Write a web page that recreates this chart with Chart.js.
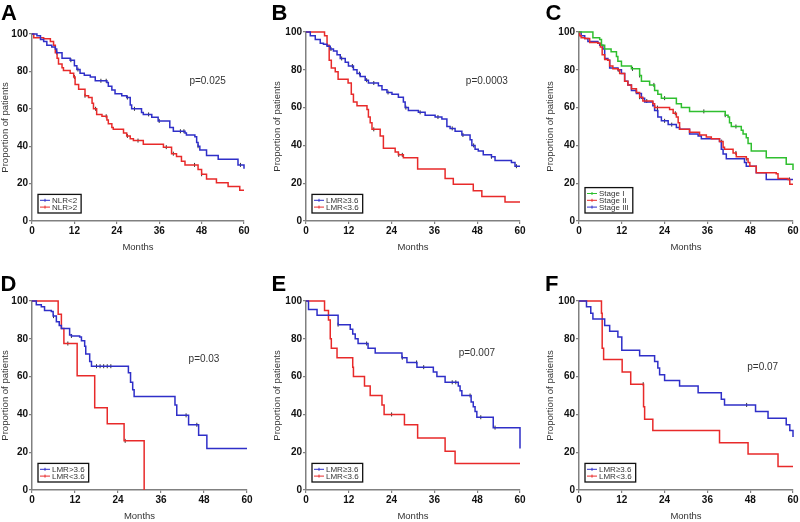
<!DOCTYPE html>
<html>
<head>
<meta charset="utf-8">
<script src="https://cdn.jsdelivr.net/npm/chart.js@4.4.0/dist/chart.umd.min.js"></script>
<style>
  body { margin: 0; background: #fff; }
  #fig { position: relative; width: 800px; height: 522px; overflow: hidden; }
  .panel { position: absolute; }
  .letter { position: absolute; font: bold 22px "Liberation Sans", Arial, sans-serif; line-height: 1; color: #000; }
</style>
</head>
<body>
<div id="fig"></div>
<script>
// tick labels
const monthTicks = [0, 12, 24, 36, 48, 60];
const propTicks = [0, 20, 40, 60, 80, 100];

// A: NLR
const aBlueT = [0, 1.4, 2.4, 3.3, 4.2, 5.6, 6.6, 7.0, 8.5, 10.8, 12.0, 12.7, 13.6, 14.8, 16.5, 17.9, 21.2, 21.6, 22.6, 23.5, 25.4, 26.8, 27.8, 28.2, 31.0, 31.5, 33.9, 35.7, 39.0, 40.0, 43.3, 43.7, 46.1, 46.6, 47.0, 47.5, 49.4, 52.7, 58.3, 60];
const aBlueS = [100, 99, 97, 96, 94, 93, 92, 90, 87, 86, 83, 81, 79, 78, 77, 75, 74, 72, 70, 68, 67, 66, 62, 60, 58, 57, 55.5, 53.5, 50, 48, 47, 46, 45, 42, 40, 38, 35, 33, 30, 28];
const aBlueC = [11, 13, 19.5, 21, 27, 29, 33, 36, 42, 43, 47, 59];
const aRedT = [0, 0.5, 3.3, 5.2, 6.1, 6.6, 7.1, 7.5, 8.5, 8.9, 10.8, 11.8, 12.2, 13.2, 15.0, 16.0, 17.0, 17.4, 18.3, 19.8, 21.2, 21.6, 22.6, 23.0, 25.9, 26.8, 27.8, 28.7, 31.5, 37.2, 39.5, 40.9, 42.3, 43.3, 47.0, 48.0, 49.4, 52.2, 55.5, 58.8, 60];
const aRedS = [100, 98, 97.5, 96, 94, 90, 87, 84, 82, 80.5, 79, 77, 73, 70.5, 67, 66, 63, 60, 57, 56, 54, 52, 50, 49, 47, 45.5, 44, 43, 41, 39.5, 36, 34.5, 32, 30, 27.5, 25, 22.5, 20.5, 18.5, 16.5, 16.5];
const aRedC = [7, 12, 15, 18, 21, 27, 30, 38, 40, 46, 48];

// B: LMR
const bBlueT = [0, 1.2, 2.6, 4.0, 4.9, 5.9, 6.8, 7.7, 8.7, 9.6, 11.0, 11.9, 13.3, 14.3, 15.2, 16.6, 17.5, 20.3, 21.3, 22.7, 24.1, 25.9, 27.3, 27.8, 28.7, 31.5, 33.4, 36.2, 38.1, 39.5, 40.4, 41.8, 43.7, 46.0, 46.5, 47.4, 48.3, 49.7, 52.0, 53.0, 57.6, 58.6, 60];
const bBlueS = [100, 98, 96, 94, 93.5, 92.5, 91, 90, 88, 86, 84, 82, 80, 78, 76.5, 74.5, 73, 71.5, 69.5, 68, 67, 65.5, 63, 60, 58.5, 57.5, 56, 55, 54, 50, 49, 47.5, 45.5, 43, 40, 38, 37, 35, 34, 32, 31, 29, 29];
const bBlueC = [7, 10, 13, 15, 17, 19, 23, 28, 32, 37, 41, 44, 47, 52, 59];
const bRedT = [0, 5.2, 5.9, 6.5, 7.1, 8.2, 9.0, 11.8, 12.7, 13.3, 14.3, 17.1, 17.5, 18.0, 18.5, 20.8, 21.7, 25.0, 25.9, 27.3, 31.3, 39.0, 41.3, 46.9, 49.3, 55.8, 60];
const bRedS = [100, 98, 93, 85, 81, 79, 75, 73, 67, 63, 61, 59, 55, 52, 48.5, 45, 38.5, 36.5, 35, 33.5, 27.5, 22.5, 19.5, 16, 13, 10, 10];
const bRedC = [19, 26, 27];

// C: stage
const cGreenT = [0, 3.9, 5.8, 6.3, 7.2, 9.0, 10.5, 10.9, 11.9, 14.7, 17.0, 17.5, 19.8, 21.2, 22.1, 23.1, 27.3, 28.7, 31.0, 41.0, 41.8, 42.2, 42.7, 45.5, 46.0, 46.9, 47.4, 48.3, 52.5, 58.1, 60];
const cGreenS = [100, 97, 96, 93, 91, 89.5, 87, 84.5, 82, 80.5, 77, 74, 72, 69, 67, 65, 62, 60, 58, 56, 55, 52, 50, 48, 46, 44, 41, 37, 33.5, 30, 27];
const cGreenC = [15, 17, 21, 24, 35, 41, 44];
const cRedT = [0, 0.2, 0.6, 1.6, 3.0, 5.3, 6.0, 6.5, 7.2, 8.1, 8.6, 9.5, 10.9, 11.4, 12.8, 13.7, 14.7, 16.1, 17.0, 17.9, 20.7, 21.2, 25.4, 26.4, 27.3, 27.8, 28.2, 31.0, 33.8, 35.7, 37.1, 39.4, 40.4, 40.8, 43.2, 44.1, 46.9, 47.4, 47.9, 49.7, 55.3, 55.8, 58.6, 59.1, 60];
const cRedS = [100, 98, 97, 96.5, 94.5, 94, 92, 88, 85.5, 85, 82, 80.5, 80, 78, 74, 72, 70, 68, 65.5, 63.5, 62, 60, 59, 57, 55, 52, 48.5, 47, 45.5, 44.5, 43.5, 42, 39, 38, 36, 34, 33, 31, 29, 25.5, 25, 22.5, 22, 19.5, 19.5];
const cRedC = [11, 17, 19, 22, 27, 40, 44, 47, 59];
const cBlueT = [0, 0.6, 1.6, 2.5, 5.3, 5.8, 6.7, 7.2, 8.1, 8.6, 10.9, 11.9, 12.8, 13.7, 14.7, 16.1, 17.5, 18.4, 20.7, 21.2, 22.1, 23.1, 25.0, 27.3, 28.2, 31.0, 33.4, 34.3, 39.4, 39.9, 40.4, 41.3, 46.4, 46.9, 49.7, 52.5, 60];
const cBlueS = [100, 98, 96.5, 95, 94, 93, 91, 86, 85, 81, 80, 78, 74, 72, 69, 67.5, 65, 63, 61, 58.5, 55, 53, 51, 49.5, 48.5, 46, 45, 43.5, 42, 38, 35.5, 33, 31, 29, 25.5, 22, 22];
const cBlueC = [16, 22, 24, 26];

// D
const dBlueT = [0, 1.2, 2.6, 3.5, 5.4, 5.9, 6.8, 7.6, 8.2, 10.5, 11.0, 13.3, 13.8, 14.7, 15.0, 16.1, 16.6, 26.9, 27.5, 28.1, 28.5, 39.9, 40.4, 43.7, 46.5, 48.8, 60];
const dBlueS = [100, 98, 97, 95, 94.5, 92, 89, 87, 85.5, 82, 81.5, 81, 79, 76, 72, 68, 65.5, 62, 57, 53, 49.5, 45, 39.5, 34.5, 29, 22, 22];
const dBlueC = [6, 11, 18, 19, 20, 21, 22, 43, 46];
const dRedT = [0, 7.3, 8.2, 8.9, 12.6, 17.5, 21.0, 25.7, 31.3];
const dRedS = [100, 93, 85.5, 77.5, 60.5, 43.5, 35, 26, 0];
const dRedC = [10, 26];

// E
const eBlueT = [0, 0.7, 3.1, 9.0, 12.4, 13.1, 13.8, 14.6, 17.4, 19.4, 26.9, 28.3, 31.1, 35.7, 36.7, 39.0, 42.7, 43.2, 43.7, 46.3, 46.9, 47.4, 47.9, 52.5, 60];
const eBlueS = [100, 95.5, 92.5, 87.5, 85, 82.5, 80, 77.5, 75, 72.5, 70, 67.5, 65, 62.5, 60, 57, 55, 52.5, 50, 46.5, 44, 41.5, 38.5, 33, 22];
const eBlueC = [9, 17, 27, 31, 33, 41, 42, 46, 49, 53];
const eRedT = [0, 5.2, 6.3, 6.8, 7.1, 8.7, 13.1, 13.3, 16.4, 18.0, 21.3, 21.9, 27.6, 31.3, 39.0, 41.8, 60];
const eRedS = [100, 95, 90, 80, 75, 70, 65, 60, 55, 50, 45, 40, 34.5, 27.5, 20.5, 14, 14];
const eRedC = [24];

// F
const fBlueT = [0, 2.1, 3.3, 3.9, 7.2, 8.6, 10.9, 12.0, 17.0, 21.2, 22.1, 22.6, 24.0, 28.2, 33.4, 39.9, 40.8, 49.5, 53.0, 58.1, 59.1, 60];
const fBlueS = [100, 97, 93.5, 90.5, 87, 84, 81, 74, 71, 68, 64.5, 61, 58, 55, 51.5, 48, 45, 41.5, 38, 34.5, 31.5, 28];
const fBlueC = [47];
const fRedT = [0, 6.3, 6.5, 6.9, 12.1, 14.5, 18.1, 18.4, 20.7, 39.4, 47.4, 55.8, 60];
const fRedS = [100, 93.5, 75, 69, 62.5, 56, 44, 37.5, 31.5, 25, 19, 12.5, 12.5];
const fRedC = [18];

const BLUE = '#2f2fc8';
const RED = '#e82a2a';
const GREEN = '#2fbf2f';
const FONT = '"Liberation Sans", Arial, sans-serif';

const panels = [
  { letter: 'A', left: 0, top: 0, w: 265, h: 260, pad: [0, 21, 34], yW: 32, xH: 39, tb: 7, lx: 1, ly: 2,
    p: 'p=0.025', px: 49.7, py: 75,
    curves: [['NLR<2', aBlueT, aBlueS, aBlueC, BLUE], ['NLR>2', aRedT, aRedS, aRedC, RED]] },
  { letter: 'B', left: 265, top: 0, w: 265, h: 260, pad: [7, 10, 32], yW: 34, xH: 39, tb: 7, lx: 6.5, ly: 2,
    p: 'p=0.0003', px: 50.7, py: 73.7,
    curves: [['LMR≥3.6', bBlueT, bBlueS, bBlueC, BLUE], ['LMR<3.6', bRedT, bRedS, bRedC, RED]] },
  { letter: 'C', left: 530, top: 0, w: 270, h: 260, pad: [15, 7, 32], yW: 34, xH: 39, tb: 7, lx: 15.5, ly: 1.5,
    p: null,
    curves: [['Stage I', cGreenT, cGreenS, cGreenC, GREEN], ['Stage II', cRedT, cRedS, cRedC, RED], ['Stage III', cBlueT, cBlueS, cBlueC, BLUE]] },
  { letter: 'D', left: 0, top: 260, w: 265, h: 262, pad: [0, 18, 41], yW: 32, xH: 32, tb: 0, lx: 0.5, ly: 13,
    p: 'p=0.03', px: 48, py: 69,
    curves: [['LMR>3.6', dBlueT, dBlueS, dBlueC, BLUE], ['LMR<3.6', dRedT, dRedS, dRedC, RED]] },
  { letter: 'E', left: 265, top: 260, w: 265, h: 262, pad: [7, 10, 41], yW: 34, xH: 32, tb: 0, lx: 6.5, ly: 13,
    p: 'p=0.007', px: 47.9, py: 72.3,
    curves: [['LMR≥3.6', eBlueT, eBlueS, eBlueC, BLUE], ['LMR<3.6', eRedT, eRedS, eRedC, RED]] },
  { letter: 'F', left: 530, top: 260, w: 270, h: 262, pad: [15, 7, 41], yW: 34, xH: 32, tb: 0, lx: 15, ly: 13,
    p: 'p=0.07', px: 51.5, py: 64.9,
    curves: [['LMR≥3.6', fBlueT, fBlueS, fBlueC, BLUE], ['LMR<3.6', fRedT, fRedS, fRedC, RED]] }
];

function survAt(T, S, t) {
  let v = S[0];
  for (let i = 0; i < T.length; i++) if (T[i] <= t) v = S[i];
  return v;
}

// p-value text and the boxed legend in the lower left
const kmDecor = {
  id: 'kmDecor',
  afterDraw(chart, args, opts) {
    const ctx = chart.ctx, area = chart.chartArea;
    const xs = chart.scales.x, ys = chart.scales.y;
    ctx.save();
    if (opts.p) {
      ctx.font = '10px ' + FONT;
      ctx.fillStyle = '#333';
      ctx.textAlign = 'center';
      ctx.textBaseline = 'middle';
      ctx.fillText(opts.p, xs.getPixelForValue(opts.px), ys.getPixelForValue(opts.py));
    }
    const items = chart.data.datasets.filter(d => !d.isCensor);
    ctx.font = '8px ' + FONT;
    const rowH = 6.8, padV = 2.5;
    const tw = Math.max(...items.map(d => ctx.measureText(d.label).width));
    const bw = 18 + tw, bh = padV * 2 + rowH * items.length;
    const bx = area.left + 6, by = area.bottom - 8 - bh;
    ctx.fillStyle = '#fff';
    ctx.fillRect(bx, by, bw, bh);
    ctx.strokeStyle = '#111';
    ctx.lineWidth = 1.3;
    ctx.strokeRect(bx, by, bw, bh);
    items.forEach((d, i) => {
      const cy = by + padV + rowH * (i + 0.5);
      ctx.strokeStyle = d.borderColor;
      ctx.lineWidth = 1;
      ctx.beginPath();
      ctx.moveTo(bx + 2, cy); ctx.lineTo(bx + 12, cy);
      ctx.moveTo(bx + 7, cy - 1.5); ctx.lineTo(bx + 7, cy + 1.5);
      ctx.stroke();
      ctx.fillStyle = '#333';
      ctx.textAlign = 'left';
      ctx.textBaseline = 'middle';
      ctx.fillText(d.label, bx + 14, cy + 0.5);
    });
    ctx.restore();
  }
};

const fig = document.getElementById('fig');

function axisBase() {
  return {
    type: 'linear',
    ticks: { font: { family: FONT, size: 10, weight: 'bold' }, color: '#111', padding: 1, maxRotation: 0 },
    grid: { display: true, drawOnChartArea: false, drawTicks: true, tickLength: 3, color: '#808080', lineWidth: 1.2 },
    border: { display: true, color: '#808080', width: 1.5 }
  };
}

panels.forEach(p => {
  const cv = document.createElement('canvas');
  cv.width = p.w; cv.height = p.h;
  cv.className = 'panel';
  cv.style.left = p.left + 'px';
  cv.style.top = p.top + 'px';
  cv.style.width = p.w + 'px';
  cv.style.height = p.h + 'px';
  fig.appendChild(cv);

  const lt = document.createElement('div');
  lt.className = 'letter';
  lt.textContent = p.letter;
  lt.style.left = (p.left + p.lx) + 'px';
  lt.style.top = (p.top + p.ly) + 'px';
  fig.appendChild(lt);

  const datasets = [];
  p.curves.forEach(([label, T, S, C, color]) => {
    datasets.push({
      label, data: T.map((t, i) => ({ x: t, y: S[i] })),
      borderColor: color, backgroundColor: color, borderWidth: 1.5,
      stepped: true, pointRadius: 0, fill: false, clip: 4
    });
  });
  p.curves.forEach(([label, T, S, C]) => {
    datasets.push({
      label: '', isCensor: true,
      data: C.map(t => ({ x: t, y: survAt(T, S, t) })),
      showLine: false, pointStyle: 'line', rotation: 90, pointRadius: 2,
      borderColor: '#333', backgroundColor: '#333', borderWidth: 1, clip: 4
    });
  });

  const x = axisBase();
  Object.assign(x, {
    min: 0, max: 60,
    afterBuildTicks: s => { s.ticks = monthTicks.map(v => ({ value: v })); },
    afterFit: s => { s.height = p.xH; },
    title: { display: true, text: 'Months', font: { family: FONT, size: 9.5 }, color: '#333', padding: { top: 0, bottom: p.tb } }
  });
  const y = axisBase();
  Object.assign(y, {
    min: 0, max: 100,
    afterBuildTicks: s => { s.ticks = propTicks.map(v => ({ value: v })); },
    afterFit: s => { s.width = p.yW; },
    title: { display: true, text: 'Proportion of patients', font: { family: FONT, size: 9.5 }, color: '#333', padding: { top: 0, bottom: 0 } }
  });

  new Chart(cv.getContext('2d'), {
    type: 'line',
    data: { datasets },
    options: {
      responsive: false,
      animation: false,
      layout: { padding: { left: p.pad[0], right: p.pad[1], top: p.pad[2], bottom: 0 } },
      plugins: {
        legend: { display: false },
        tooltip: { enabled: false },
        kmDecor: { p: p.p, px: p.px, py: p.py }
      },
      scales: { x, y }
    },
    plugins: [kmDecor]
  });
});
</script>
</body>
</html>
